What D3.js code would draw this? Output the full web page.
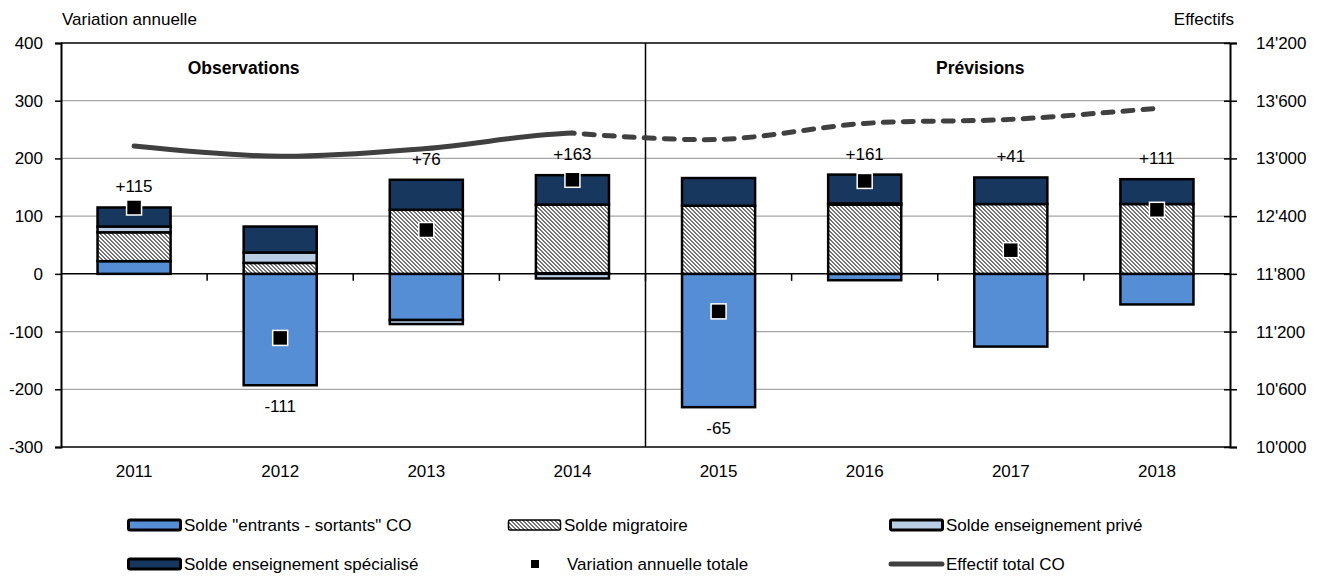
<!DOCTYPE html>
<html>
<head>
<meta charset="utf-8">
<script src="https://cdn.jsdelivr.net/npm/d3@7"></script>
<style>
  body { margin: 0; background: #fff; }
  svg { display: block; font-family: "Liberation Sans", Arial, sans-serif; }
</style>
</head>
<body>
<svg id="chart" width="1318" height="577"></svg>
<script>
const years = ["2011", "2012", "2013", "2014", "2015", "2016", "2017", "2018"];
const soldeCO = [22, -193, -80, 1, -231, -11, -126, -53];
const soldeMigratoire = [50, 19, 111, 119, 118, 120, 121, 121];
const soldePrive = [10, 18, -7, -8, 0, 2, 0, 0];
const soldeSpecialise = [33, 45, 52, 51, 48, 50, 46, 43];
const variationTotale = [115, -111, 76, 163, -65, 161, 41, 111];
const effectifTotal = [13129, 13022, 13103, 13264, 13197, 13364, 13406, 13521];
const leftTicks = [-300, -200, -100, 0, 100, 200, 300, 400];
const rightTicks = [10000, 10600, 11200, 11800, 12400, 13000, 13600, 14200];

const width = 1318, height = 577;
const margin = { top: 43, right: 88, bottom: 130, left: 61 };
const innerW = width - margin.left - margin.right;
const innerH = height - margin.top - margin.bottom;

const colors = {
   co: "#558ed5",
   migr: "url(#hatch)",
   prive: "#b9cde5",
   spec: "#17375e"
};

const svg = d3.select("#chart");
const defs = svg.append("defs");

// fine diagonal hatch for "Solde migratoire"
const pat = defs.append("pattern")
   .attr("id", "hatch")
   .attr("patternUnits", "userSpaceOnUse")
   .attr("width", 4)
   .attr("height", 4);
pat.append("rect").attr("width", 4).attr("height", 4).attr("fill", "#fff");
[[0, 0], [1, 0], [1, 1], [2, 1], [2, 2], [3, 2], [3, 3], [0, 3]].forEach(([px, py]) => {
   pat.append("rect").attr("x", px).attr("y", py).attr("width", 1).attr("height", 1).attr("fill", "#747474");
});

const g = svg.append("g").attr("transform", `translate(${margin.left},${margin.top})`);

const x = d3.scaleBand().domain(years).range([0, innerW]).paddingInner(0.5).paddingOuter(0.25);
const y = d3.scaleLinear().domain([-300, 400]).range([innerH, 0]);
const y2 = d3.scaleLinear().domain([10000, 14200]).range([innerH, 0]);
const fmtRight = d3.formatLocale({ decimal: ".", thousands: "'", grouping: [3], currency: ["", ""] }).format(",");

// ----------------------- grid
g.selectAll(".grid")
   .data(leftTicks.filter(d => d !== 0 && d !== -300 && d !== 400))
   .join("line")
   .attr("class", "grid")
   .attr("x1", 0).attr("x2", innerW)
   .attr("y1", d => y(d)).attr("y2", d => y(d))
   .attr("stroke", "#a6a6a6")
   .attr("stroke-width", 1.3);

// frame top / bottom
[400, -300].forEach(v => {
   g.append("line")
      .attr("x1", 0).attr("x2", innerW)
      .attr("y1", y(v)).attr("y2", y(v))
      .attr("stroke", "#000").attr("stroke-width", 1.5);
});

// ----------------------- axes
const axisL = g.append("g")
   .call(d3.axisLeft(y).tickValues(leftTicks).tickFormat(d => String(d)).tickSize(6).tickPadding(12));
axisL.select(".domain").attr("stroke-width", 2);
axisL.selectAll(".tick line").attr("stroke-width", 1.5);
axisL.selectAll("text").attr("font-size", 17).attr("fill", "#000");

const axisR = g.append("g")
   .attr("transform", `translate(${innerW},0)`)
   .call(d3.axisRight(y2).tickValues(rightTicks).tickFormat(fmtRight).tickSize(7).tickPadding(19));
axisR.select(".domain").attr("stroke-width", 2);
axisR.selectAll(".tick line").attr("stroke-width", 1.5).attr("x1", -6);
axisR.selectAll("text").attr("font-size", 17).attr("fill", "#000");

// year labels
g.selectAll(".year")
   .data(years)
   .join("text")
   .attr("class", "year")
   .attr("x", d => x(d) + x.bandwidth() / 2)
   .attr("y", innerH + 24)
   .attr("dy", "0.35em")
   .attr("text-anchor", "middle")
   .attr("font-size", 17)
   .text(d => d);

// observations / previsions divider
const divX = (x("2014") + x.bandwidth() + x("2015")) / 2;
g.append("line")
   .attr("x1", divX).attr("x2", divX)
   .attr("y1", 0).attr("y2", innerH)
   .attr("stroke", "#000").attr("stroke-width", 1.5);

g.append("text")
   .attr("x", x("2012")).attr("y", 25).attr("dy", "0.35em")
   .attr("text-anchor", "middle").attr("font-size", 17.5).attr("font-weight", "bold")
   .text("Observations");
g.append("text")
   .attr("x", x("2017") + 6).attr("y", 25).attr("dy", "0.35em")
   .attr("text-anchor", "middle").attr("font-size", 17.5).attr("font-weight", "bold")
   .text("Prévisions");

// axis titles
svg.append("text").attr("x", 62).attr("y", 19).attr("dy", "0.35em")
   .attr("font-size", 17).text("Variation annuelle");
svg.append("text").attr("x", 1234).attr("y", 19).attr("dy", "0.35em")
   .attr("text-anchor", "end").attr("font-size", 17).text("Effectifs");

// ----------------------- stacked bars
const keys = ["co", "migr", "prive", "spec"];
const rows = years.map((yr, i) => ({
   year: yr,
   co: soldeCO[i],
   migr: soldeMigratoire[i],
   prive: soldePrive[i],
   spec: soldeSpecialise[i]
}));
const stack = d3.stack().keys(keys).offset(d3.stackOffsetDiverging);
const series = stack(rows);

g.selectAll(".serie")
   .data(series)
   .join("g")
   .attr("class", "serie")
   .attr("fill", s => colors[s.key])
   .selectAll("rect")
   .data(s => s.filter(d => d[1] !== d[0]))
   .join("rect")
   .attr("x", d => x(d.data.year))
   .attr("width", x.bandwidth())
   .attr("y", d => y(Math.max(d[0], d[1])))
   .attr("height", d => Math.abs(y(d[0]) - y(d[1])))
   .attr("stroke", "#000")
   .attr("stroke-width", 2.5);

// zero line and x ticks
g.append("line")
   .attr("x1", 0).attr("x2", innerW)
   .attr("y1", y(0)).attr("y2", y(0))
   .attr("stroke", "#000").attr("stroke-width", 1.5);
const bounds = d3.range(1, years.length).map(i => x(years[i]) - x.step() * x.paddingInner() / 2);
g.selectAll(".xtick")
   .data(bounds)
   .join("line")
   .attr("class", "xtick")
   .attr("x1", d => d).attr("x2", d => d)
   .attr("y1", y(0)).attr("y2", y(0) + 7)
   .attr("stroke", "#000").attr("stroke-width", 1.5);

// ----------------------- effectif line (secondary axis)
const cx = i => x(years[i]) + x.bandwidth() / 2;
const line = d3.line()
   .x((d, i) => cx(i))
   .y(d => y2(d))
   .curve(d3.curveCatmullRom.alpha(0.5));

const splitX = cx(3);
defs.append("clipPath").attr("id", "clipObs")
   .append("rect").attr("x", -10).attr("y", -10).attr("width", splitX + 10).attr("height", innerH + 20);

g.append("path")
   .datum(effectifTotal)
   .attr("d", line)
   .attr("clip-path", "url(#clipObs)")
   .attr("fill", "none")
   .attr("stroke", "#404040")
   .attr("stroke-width", 5)
   .attr("stroke-linecap", "round");

g.append("path")
   .datum(effectifTotal.slice(3))
   .attr("d", d3.line()
      .x((d, i) => cx(i + 3))
      .y(d => y2(d))
      .curve(d3.curveCatmullRom.alpha(0.5)))
   .attr("fill", "none")
   .attr("stroke", "#404040")
   .attr("stroke-width", 5)
   .attr("stroke-dasharray", "10 10")
   .attr("stroke-dashoffset", -12)
   .attr("stroke-linecap", "round");

// ----------------------- total markers and labels
const ms = 15;
g.selectAll(".marker")
   .data(variationTotale)
   .join("rect")
   .attr("class", "marker")
   .attr("x", (d, i) => cx(i) - ms / 2)
   .attr("y", d => y(d) - ms / 2)
   .attr("width", ms).attr("height", ms)
   .attr("fill", "#000")
   .attr("stroke", "#fff")
   .attr("stroke-width", 1.5);

const fmtSign = d3.format("+");
g.selectAll(".vlabel")
   .data(variationTotale)
   .join("text")
   .attr("class", "vlabel")
   .attr("x", (d, i) => cx(i))
   .attr("y", (d, i) => {
      const pos = d3.max(series, s => Math.max(s[i][0], s[i][1]));
      const neg = d3.min(series, s => Math.min(s[i][0], s[i][1]));
      return d >= 0 ? y(pos) - 21 : y(neg) + 21;
   })
   .attr("dy", "0.35em")
   .attr("text-anchor", "middle")
   .attr("font-size", 17)
   .text(d => d >= 0 ? fmtSign(d) : String(d));

// ----------------------- legend
const legendItems = [
   { label: "Solde \"entrants - sortants\" CO", type: "rect", fill: colors.co, x: 127, y: 525 },
   { label: "Solde migratoire", type: "rect", fill: colors.migr, x: 507, y: 525, thin: true },
   { label: "Solde enseignement privé", type: "rect", fill: colors.prive, x: 889, y: 525 },
   { label: "Solde enseignement spécialisé", type: "rect", fill: colors.spec, x: 127, y: 564 },
   { label: "Variation annuelle totale", type: "marker", x: 507, y: 564 },
   { label: "Effectif total CO", type: "line", x: 889, y: 564 }
];

const leg = svg.selectAll(".legend")
   .data(legendItems)
   .join("g")
   .attr("class", "legend")
   .attr("transform", d => `translate(${d.x},${d.y})`);

leg.filter(d => d.type === "rect")
   .append("rect")
   .attr("x", 1.5).attr("y", -5)
   .attr("width", 52).attr("height", 10)
   .attr("rx", 1.5)
   .attr("fill", d => d.fill)
   .attr("stroke", "#000")
   .attr("stroke-width", d => d.thin ? 1.5 : 3);

leg.filter(d => d.type === "marker")
   .append("rect")
   .attr("x", 24).attr("y", -4)
   .attr("width", 8).attr("height", 8)
   .attr("fill", "#000");

leg.filter(d => d.type === "line")
   .append("line")
   .attr("x1", 2).attr("x2", 53)
   .attr("stroke", "#404040")
   .attr("stroke-width", 5)
   .attr("stroke-linecap", "round");

leg.append("text")
   .attr("x", d => d.type === "marker" ? 60 : 57)
   .attr("dy", "0.35em")
   .attr("font-size", 17)
   .text(d => d.label);
</script>
</body>
</html>
